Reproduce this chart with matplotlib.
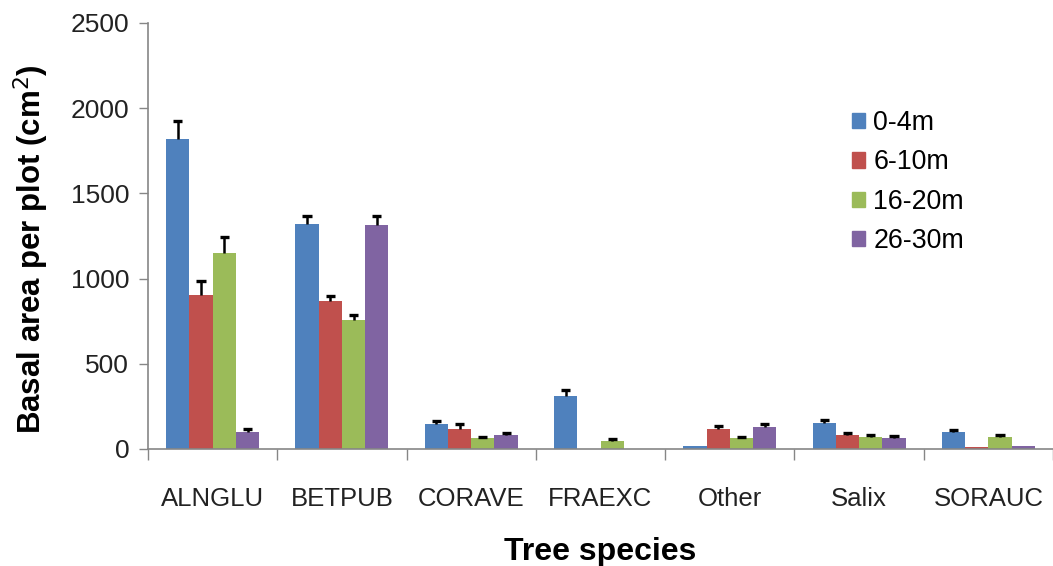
import numpy as np
import matplotlib
matplotlib.use("Agg")
import matplotlib.pyplot as plt
from matplotlib.patches import Patch

plt.rcParams['font.family'] = ['Liberation Sans', 'DejaVu Sans']

species = ["ALNGLU", "BETPUB", "CORAVE", "FRAEXC", "Other", "Salix", "SORAUC"]
distances = ["0-4m", "6-10m", "16-20m", "26-30m"]
colors = ["#4F81BD", "#C0504D", "#9BBB59", "#8064A2"]

# basal area per plot, one list per distance class
area_0_4 = [1820, 1321, 148, 312, 17, 152, 100]
area_6_10 = [902, 869, 117, 0, 115, 85, 14]
area_16_20 = [1149, 756, 64, 48, 62, 70, 68]
area_26_30 = [97, 1315, 80, 0, 130, 62, 17]

# standard errors (upper bar only), nan = not drawn
err_0_4 = [107, 49, 18, 33, np.nan, 20, 11]
err_6_10 = [86, 31, 27, np.nan, 20, 10, np.nan]
err_16_20 = [97, 33, 9, 12, 11, 12, 15]
err_26_30 = [18, 55, 12, np.nan, 18, 12, np.nan]

values = [area_0_4, area_6_10, area_16_20, area_26_30]
errors = [err_0_4, err_6_10, err_16_20, err_26_30]

fig = plt.figure(figsize=(10.53, 5.66), dpi=100)
ax = fig.add_axes([148/1053, 117/566, 1 - 148/1053, (449-23)/566])

x = np.arange(len(species))
w = 0.18
cap = 0.035
for i, (vals, errs) in enumerate(zip(values, errors)):
    pos = x + (i - 1.5) * w
    ax.bar(pos, vals, width=w, color=colors[i], label=distances[i], zorder=2)
    v = np.array(vals, dtype=float)
    e = np.array(errs, dtype=float)
    ok = ~np.isnan(e)
    # upper error bars only, like the spreadsheet original
    ax.vlines(pos[ok], v[ok], v[ok] + e[ok], color='black', lw=1.8, zorder=3)
    ax.hlines(v[ok] + e[ok], pos[ok] - cap, pos[ok] + cap, color='black', lw=2.4, zorder=3)

ax.set_ylim(0, 2500)
ax.set_xlim(-0.5, -0.5 + 905/130.3)
ax.set_yticks(np.arange(0, 2501, 500))

ax.set_xticks(np.arange(-0.5, len(species), 1.0))
ax.set_xticklabels([])
ax.set_xticks(x, minor=True)
ax.set_xticklabels(species, minor=True)
ax.tick_params(axis='x', which='major', length=8, width=1, color='#868686', direction='out')
ax.tick_params(axis='x', which='minor', length=0, pad=27, labelsize=18.5, labelcolor='#222222')
ax.tick_params(axis='y', length=6.5, width=1, color='#868686', pad=7, labelsize=19,
               labelcolor='#222222')

for s in ['top', 'right']:
    ax.spines[s].set_visible(False)
for s in ['left', 'bottom']:
    ax.spines[s].set_color('#868686')
    ax.spines[s].set_linewidth(1.2)

ax.set_ylabel("Basal area per plot (cm$^2$)", fontsize=22.5, fontweight='bold')
ax.yaxis.set_label_coords(-0.107, 0.47)
ax.set_xlabel("Tree species", fontsize=23, fontweight='bold', labelpad=19)

handles = [Patch(color=c) for c in colors]
fig.legend(handles, distances, loc='upper left', bbox_to_anchor=(852/1053, 1 - 110/566),
           frameon=False, fontsize=19.3, handlelength=0.5, handleheight=0.5,
           handletextpad=0.3, labelspacing=0.5, borderpad=0, borderaxespad=0)

fig.savefig("out.png", dpi=100)
